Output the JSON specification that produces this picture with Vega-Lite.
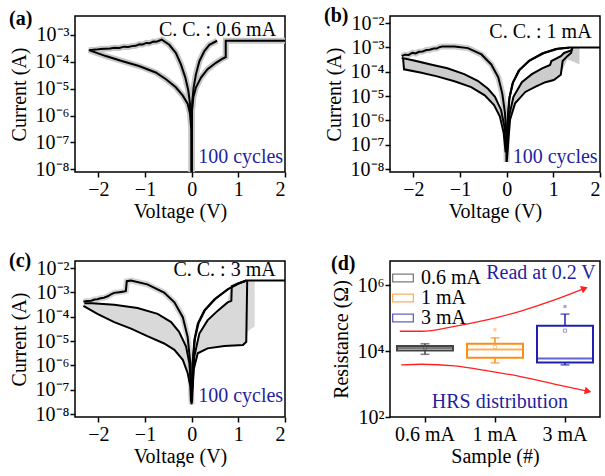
{
"$schema":"https://vega.github.io/schema/vega-lite/v6.json",
"background":"white",
"padding":{"left":8,"top":5,"right":0,"bottom":0},
"config":{
 "font":"Liberation Serif",
 "view":{"stroke":"black","strokeWidth":1.5},
 "axis":{"labelFont":"Liberation Serif","labelFontSize":20,"titleFont":"Liberation Serif","titleFontSize":20,"titleFontWeight":"normal","labelColor":"black","titleColor":"black","tickColor":"black","tickWidth":1.5,"domain":false,"grid":false},
 "axisY":{"tickSize":5,"labelPadding":1,"titlePadding":6},
 "axisX":{"tickSize":5,"labelPadding":2,"titlePadding":2},
 "title":{"font":"Liberation Serif","fontSize":20,"fontWeight":"bold","color":"black","anchor":"start","frame":"bounds","offset":-13}
},
"datasets":{
 "A":[
  {"s":"a1","o":0,"V":0,"L":-8.1},{"s":"a1","o":1,"V":0.007,"L":-5.8},{"s":"a1","o":2,"V":0.036,"L":-5.32},{"s":"a1","o":3,"V":0.093,"L":-4.95},{"s":"a1","o":4,"V":0.2,"L":-4.59},{"s":"a1","o":5,"V":0.34,"L":-4.28},{"s":"a1","o":6,"V":0.52,"L":-4.04},{"s":"a1","o":7,"V":0.67,"L":-3.88},{"s":"a1","o":8,"V":0.73,"L":-3.83},{"s":"a1","o":9,"V":0.73,"L":-3.22},{"s":"a1","o":10,"V":2,"L":-3.22},
  {"s":"a2","o":0,"V":0.545,"L":-3.22},{"s":"a2","o":1,"V":0.38,"L":-3.37},{"s":"a2","o":2,"V":0.27,"L":-3.61},{"s":"a2","o":3,"V":0.165,"L":-3.98},{"s":"a2","o":4,"V":0.093,"L":-4.46},{"s":"a2","o":5,"V":0.043,"L":-4.95},{"s":"a2","o":6,"V":0.014,"L":-5.44},{"s":"a2","o":7,"V":0.003,"L":-6.05},{"s":"a2","o":8,"V":0,"L":-8.1},
  {"s":"a3","o":0,"V":-0.005,"L":-6.5},{"s":"a3","o":1,"V":-0.014,"L":-6.05},{"s":"a3","o":2,"V":-0.036,"L":-5.56},{"s":"a3","o":3,"V":-0.072,"L":-5.07},{"s":"a3","o":4,"V":-0.136,"L":-4.59},{"s":"a3","o":5,"V":-0.23,"L":-4.1},{"s":"a3","o":6,"V":-0.34,"L":-3.67},{"s":"a3","o":7,"V":-0.48,"L":-3.37},{"s":"a3","o":8,"V":-0.64,"L":-3.18},{"s":"a3","o":9,"V":-0.7,"L":-3.22},{"s":"a3","o":10,"V":-0.76,"L":-3.26},{"s":"a3","o":11,"V":-0.82,"L":-3.25},{"s":"a3","o":12,"V":-0.9,"L":-3.31},{"s":"a3","o":13,"V":-0.97,"L":-3.3},{"s":"a3","o":14,"V":-1.05,"L":-3.36},{"s":"a3","o":15,"V":-1.12,"L":-3.35},{"s":"a3","o":16,"V":-1.2,"L":-3.41},{"s":"a3","o":17,"V":-1.28,"L":-3.42},{"s":"a3","o":18,"V":-1.36,"L":-3.45},{"s":"a3","o":19,"V":-1.45,"L":-3.44},{"s":"a3","o":20,"V":-1.55,"L":-3.49},{"s":"a3","o":21,"V":-1.65,"L":-3.48},{"s":"a3","o":22,"V":-1.75,"L":-3.51},{"s":"a3","o":23,"V":-1.85,"L":-3.52},{"s":"a3","o":24,"V":-1.95,"L":-3.53},{"s":"a3","o":25,"V":-2.05,"L":-3.55},{"s":"a3","o":26,"V":-2.2,"L":-3.57},{"s":"a3","o":27,"V":-2.05,"L":-3.66},{"s":"a3","o":28,"V":-1.84,"L":-3.79},{"s":"a3","o":29,"V":-1.48,"L":-3.98},{"s":"a3","o":30,"V":-1.13,"L":-4.16},{"s":"a3","o":31,"V":-0.77,"L":-4.4},{"s":"a3","o":32,"V":-0.55,"L":-4.65},{"s":"a3","o":33,"V":-0.34,"L":-4.95},{"s":"a3","o":34,"V":-0.19,"L":-5.26},{"s":"a3","o":35,"V":-0.086,"L":-5.56},{"s":"a3","o":36,"V":-0.036,"L":-5.93},{"s":"a3","o":37,"V":-0.007,"L":-6.54},{"s":"a3","o":38,"V":0,"L":-8.1}
 ],
 "B":[
  {"s":"b1","o":0,"V":0,"L":-7.7},{"s":"b1","o":1,"V":0.014,"L":-6.24},{"s":"b1","o":2,"V":0.05,"L":-5.17},{"s":"b1","o":3,"V":0.123,"L":-4.5},{"s":"b1","o":4,"V":0.254,"L":-3.96},{"s":"b1","o":5,"V":0.47,"L":-3.56},{"s":"b1","o":6,"V":0.76,"L":-3.25},{"s":"b1","o":7,"V":1.05,"L":-3.07},{"s":"b1","o":8,"V":1.34,"L":-3.0},{"s":"b1","o":9,"V":2,"L":-3.0},
  {"s":"b1b","o":0,"V":0.004,"L":-7.3},{"s":"b1b","o":1,"V":0.022,"L":-6.05},{"s":"b1b","o":2,"V":0.062,"L":-5.05},{"s":"b1b","o":3,"V":0.14,"L":-4.42},{"s":"b1b","o":4,"V":0.28,"L":-3.92},{"s":"b1b","o":5,"V":0.5,"L":-3.53},{"s":"b1b","o":6,"V":0.8,"L":-3.23},{"s":"b1b","o":7,"V":1.1,"L":-3.06},{"s":"b1b","o":8,"V":1.34,"L":-3.01},
  {"s":"b2","o":0,"V":0.007,"L":-6.91},{"s":"b2","o":1,"V":0.05,"L":-5.84},{"s":"b2","o":2,"V":0.145,"L":-5.03},{"s":"b2","o":3,"V":0.326,"L":-4.43},{"s":"b2","o":4,"V":0.54,"L":-4.1},{"s":"b2","o":5,"V":0.76,"L":-3.86},{"s":"b2","o":6,"V":0.93,"L":-3.72},{"s":"b2","o":7,"V":0.96,"L":-3.56},{"s":"b2","o":8,"V":1.16,"L":-3.36},{"s":"b2","o":9,"V":1.23,"L":-3.23},{"s":"b2","o":10,"V":1.38,"L":-3.13},{"s":"b2","o":11,"V":1.41,"L":-3.0},
  {"s":"b3","o":0,"V":0.007,"L":-7.58},{"s":"b3","o":1,"V":0.072,"L":-5.97},{"s":"b3","o":2,"V":0.18,"L":-5.3},{"s":"b3","o":3,"V":0.4,"L":-4.83},{"s":"b3","o":4,"V":0.62,"L":-4.61},{"s":"b3","o":5,"V":0.83,"L":-4.43},{"s":"b3","o":6,"V":1.01,"L":-4.34},{"s":"b3","o":7,"V":1.09,"L":-4.23},{"s":"b3","o":8,"V":1.16,"L":-4.12},{"s":"b3","o":9,"V":1.2,"L":-3.56},{"s":"b3","o":10,"V":1.3,"L":-3.36},{"s":"b3","o":11,"V":1.38,"L":-3.23},{"s":"b3","o":12,"V":1.41,"L":-3.0},
  {"s":"b4","o":0,"V":-2.25,"L":-3.36},{"s":"b4","o":1,"V":-2.18,"L":-3.3},{"s":"b4","o":2,"V":-2.1,"L":-3.31},{"s":"b4","o":3,"V":-2.02,"L":-3.22},{"s":"b4","o":4,"V":-1.95,"L":-3.25},{"s":"b4","o":5,"V":-1.88,"L":-3.18},{"s":"b4","o":6,"V":-1.8,"L":-3.17},{"s":"b4","o":7,"V":-1.72,"L":-3.11},{"s":"b4","o":8,"V":-1.65,"L":-3.1},{"s":"b4","o":9,"V":-1.56,"L":-3.05},{"s":"b4","o":10,"V":-1.5,"L":-3.05},{"s":"b4","o":11,"V":-1.44,"L":-2.99},{"s":"b4","o":12,"V":-1.38,"L":-2.96},{"s":"b4","o":13,"V":-1.12,"L":-2.96},{"s":"b4","o":14,"V":-0.83,"L":-3.03},{"s":"b4","o":15,"V":-0.54,"L":-3.29},{"s":"b4","o":16,"V":-0.33,"L":-3.7},{"s":"b4","o":17,"V":-0.18,"L":-4.23},{"s":"b4","o":18,"V":-0.094,"L":-4.9},{"s":"b4","o":19,"V":-0.036,"L":-5.7},{"s":"b4","o":20,"V":-0.007,"L":-6.64},{"s":"b4","o":21,"V":0,"L":-7.71},
  {"s":"b5","o":0,"V":-2.25,"L":-3.43},{"s":"b5","o":1,"V":-1.99,"L":-3.54},{"s":"b5","o":2,"V":-1.63,"L":-3.7},{"s":"b5","o":3,"V":-1.27,"L":-3.86},{"s":"b5","o":4,"V":-0.91,"L":-4.1},{"s":"b5","o":5,"V":-0.62,"L":-4.37},{"s":"b5","o":6,"V":-0.4,"L":-4.7},{"s":"b5","o":7,"V":-0.25,"L":-5.03},{"s":"b5","o":8,"V":-0.12,"L":-5.57},{"s":"b5","o":9,"V":-0.05,"L":-6.24},{"s":"b5","o":10,"V":-0.014,"L":-7.18},
  {"s":"b6","o":0,"V":-2.22,"L":-3.43},{"s":"b6","o":1,"V":-2.2,"L":-3.9},{"s":"b6","o":2,"V":-1.85,"L":-4.03},{"s":"b6","o":3,"V":-1.49,"L":-4.19},{"s":"b6","o":4,"V":-1.12,"L":-4.39},{"s":"b6","o":5,"V":-0.76,"L":-4.63},{"s":"b6","o":6,"V":-0.47,"L":-4.97},{"s":"b6","o":7,"V":-0.27,"L":-5.37},{"s":"b6","o":8,"V":-0.145,"L":-5.84},{"s":"b6","o":9,"V":-0.065,"L":-6.51},{"s":"b6","o":10,"V":-0.022,"L":-7.31}
 ],
 "Bband":[
  {"side":"l","V":-2.2,"L":-3.9,"L2":-3.43},{"side":"l","V":-1.8,"L":-4.03,"L2":-3.56},{"side":"l","V":-1.4,"L":-4.22,"L2":-3.79},{"side":"l","V":-1.0,"L":-4.45,"L2":-4.03},{"side":"l","V":-0.7,"L":-4.7,"L2":-4.28},{"side":"l","V":-0.45,"L":-5.0,"L2":-4.62},{"side":"l","V":-0.25,"L":-5.37,"L2":-5.03},{"side":"l","V":-0.12,"L":-5.9,"L2":-5.57},{"side":"l","V":-0.05,"L":-6.5,"L2":-6.24},{"side":"l","V":-0.015,"L":-7.3,"L2":-7.1},
  {"side":"r","V":0.01,"L":-7.2,"L2":-6.5},{"side":"r","V":0.05,"L":-6.3,"L2":-5.84},{"side":"r","V":0.15,"L":-5.45,"L2":-5.0},{"side":"r","V":0.3,"L":-5.0,"L2":-4.48},{"side":"r","V":0.5,"L":-4.75,"L2":-4.15},{"side":"r","V":0.7,"L":-4.55,"L2":-3.92},{"side":"r","V":0.9,"L":-4.4,"L2":-3.75},{"side":"r","V":1.0,"L":-4.35,"L2":-3.55},{"side":"r","V":1.15,"L":-4.12,"L2":-3.36},{"side":"r","V":1.3,"L":-3.5,"L2":-3.15},{"side":"r","V":1.45,"L":-3.6,"L2":-3.0},{"side":"r","V":1.56,"L":-3.7,"L2":-3.0}
 ],
 "C":[
  {"s":"c1","o":0,"V":0,"L":-7.5},{"s":"c1","o":1,"V":0.02,"L":-5.9},{"s":"c1","o":2,"V":0.057,"L":-4.96},{"s":"c1","o":3,"V":0.13,"L":-4.29},{"s":"c1","o":4,"V":0.27,"L":-3.75},{"s":"c1","o":5,"V":0.49,"L":-3.28},{"s":"c1","o":6,"V":0.77,"L":-2.87},{"s":"c1","o":7,"V":0.99,"L":-2.65},{"s":"c1","o":8,"V":1.17,"L":-2.51},{"s":"c1","o":9,"V":2,"L":-2.51},
  {"s":"c1b","o":0,"V":0.005,"L":-7.2},{"s":"c1b","o":1,"V":0.028,"L":-5.8},{"s":"c1b","o":2,"V":0.07,"L":-4.9},{"s":"c1b","o":3,"V":0.15,"L":-4.25},{"s":"c1b","o":4,"V":0.29,"L":-3.72},{"s":"c1b","o":5,"V":0.51,"L":-3.26},{"s":"c1b","o":6,"V":0.79,"L":-2.86},{"s":"c1b","o":7,"V":1.0,"L":-2.64},{"s":"c1b","o":8,"V":1.17,"L":-2.52},
  {"s":"c2","o":0,"V":0.014,"L":-6.98},{"s":"c2","o":1,"V":0.057,"L":-5.63},{"s":"c2","o":2,"V":0.165,"L":-4.69},{"s":"c2","o":3,"V":0.34,"L":-4.15},{"s":"c2","o":4,"V":0.56,"L":-3.75},{"s":"c2","o":5,"V":0.77,"L":-3.41},{"s":"c2","o":6,"V":0.85,"L":-3.35},{"s":"c2","o":7,"V":0.86,"L":-2.74},{"s":"c2","o":8,"V":0.99,"L":-2.63},{"s":"c2","o":9,"V":1.17,"L":-2.51},
  {"s":"c3","o":0,"V":0.007,"L":-7.52},{"s":"c3","o":1,"V":0.043,"L":-6.17},{"s":"c3","o":2,"V":0.13,"L":-5.5},{"s":"c3","o":3,"V":0.34,"L":-5.3},{"s":"c3","o":4,"V":0.7,"L":-5.2},{"s":"c3","o":5,"V":1.1,"L":-5.16},{"s":"c3","o":6,"V":1.17,"L":-5.03},{"s":"c3","o":7,"V":1.19,"L":-2.51},
  {"s":"c4","o":0,"V":-2.32,"L":-3.38},{"s":"c4","o":1,"V":-2.24,"L":-3.35},{"s":"c4","o":2,"V":-2.15,"L":-3.34},{"s":"c4","o":3,"V":-2.08,"L":-3.29},{"s":"c4","o":4,"V":-2.02,"L":-3.28},{"s":"c4","o":5,"V":-1.95,"L":-3.24},{"s":"c4","o":6,"V":-1.88,"L":-3.22},{"s":"c4","o":7,"V":-1.8,"L":-3.16},{"s":"c4","o":8,"V":-1.73,"L":-3.08},{"s":"c4","o":9,"V":-1.66,"L":-3.02},{"s":"c4","o":10,"V":-1.55,"L":-2.99},{"s":"c4","o":11,"V":-1.45,"L":-2.96},{"s":"c4","o":12,"V":-1.41,"L":-2.94},{"s":"c4","o":13,"V":-1.39,"L":-2.54},{"s":"c4","o":14,"V":-1.3,"L":-2.51},{"s":"c4","o":15,"V":-0.95,"L":-2.67},{"s":"c4","o":16,"V":-0.59,"L":-3.01},{"s":"c4","o":17,"V":-0.37,"L":-3.41},{"s":"c4","o":18,"V":-0.19,"L":-4.02},{"s":"c4","o":19,"V":-0.086,"L":-4.83},{"s":"c4","o":20,"V":-0.029,"L":-5.9},{"s":"c4","o":21,"V":-0.014,"L":-6.98},{"s":"c4","o":22,"V":0,"L":-7.6},
  {"s":"c5","o":0,"V":-2.3,"L":-3.45},{"s":"c5","o":1,"V":-2.13,"L":-3.45},{"s":"c5","o":2,"V":-1.66,"L":-3.51},{"s":"c5","o":3,"V":-1.16,"L":-3.64},{"s":"c5","o":4,"V":-0.73,"L":-3.88},{"s":"c5","o":5,"V":-0.44,"L":-4.22},{"s":"c5","o":6,"V":-0.27,"L":-4.62},{"s":"c5","o":7,"V":-0.12,"L":-5.23},{"s":"c5","o":8,"V":-0.05,"L":-5.9},{"s":"c5","o":9,"V":-0.014,"L":-6.85},
  {"s":"c6","o":0,"V":-2.32,"L":-3.55},{"s":"c6","o":1,"V":-2.02,"L":-3.88},{"s":"c6","o":2,"V":-1.66,"L":-4.22},{"s":"c6","o":3,"V":-1.3,"L":-4.49},{"s":"c6","o":4,"V":-0.95,"L":-4.8},{"s":"c6","o":5,"V":-0.59,"L":-5.1},{"s":"c6","o":6,"V":-0.37,"L":-5.36},{"s":"c6","o":7,"V":-0.19,"L":-5.77},{"s":"c6","o":8,"V":-0.086,"L":-6.31},{"s":"c6","o":9,"V":-0.029,"L":-6.85},{"s":"c6","o":10,"V":-0.014,"L":-7.52}
 ],
 "Cband":[
  {"side":"l","V":-2.3,"L":-3.55,"L2":-3.45},{"side":"l","V":-2.0,"L":-3.88,"L2":-3.47},{"side":"l","V":-1.66,"L":-4.22,"L2":-3.51},{"side":"l","V":-1.3,"L":-4.49,"L2":-3.58},{"side":"l","V":-0.95,"L":-4.8,"L2":-3.72},{"side":"l","V":-0.6,"L":-5.1,"L2":-4.0},{"side":"l","V":-0.37,"L":-5.36,"L2":-4.35},{"side":"l","V":-0.19,"L":-5.77,"L2":-4.85},{"side":"l","V":-0.086,"L":-6.31,"L2":-5.4},{"side":"l","V":-0.03,"L":-6.85,"L2":-6.0},{"side":"l","V":-0.01,"L":-7.5,"L2":-6.9},
  {"side":"r","V":0.01,"L":-7.3,"L2":-6.5},{"side":"r","V":0.05,"L":-6.2,"L2":-5.7},{"side":"r","V":0.13,"L":-5.5,"L2":-4.8},{"side":"r","V":0.3,"L":-5.3,"L2":-4.2},{"side":"r","V":0.5,"L":-5.25,"L2":-3.85},{"side":"r","V":0.75,"L":-5.2,"L2":-3.45},{"side":"r","V":0.85,"L":-5.18,"L2":-2.75},{"side":"r","V":1.1,"L":-5.16,"L2":-2.55},{"side":"r","V":1.17,"L":-5.03,"L2":-2.51},{"side":"r","V":1.2,"L":-4.6,"L2":-2.51},{"side":"r","V":1.35,"L":-4.4,"L2":-2.51}
 ],
 "D":[
  {"cc":"0.6 mA","lo":3.9,"q1":4.02,"med":4.09,"q3":4.15,"hi":4.22},
  {"cc":"1 mA","lo":3.64,"q1":3.8,"med":4.05,"q3":4.22,"hi":4.4},
  {"cc":"3 mA","lo":3.58,"q1":3.65,"med":3.77,"q3":4.77,"hi":5.12}
 ],
 "Dpts":[
  {"cc":"1 mA","k":"out","v":4.65},{"cc":"3 mA","k":"out","v":5.35},
  {"cc":"0.6 mA","k":"mean","v":4.09},{"cc":"1 mA","k":"mean","v":4.12},{"cc":"3 mA","k":"mean","v":4.62}
 ],
 "Darr":[
  {"a":"up","o":0,"p":0.14,"r":4.6},{"a":"up","o":1,"p":0.45,"r":4.6},{"a":"up","o":2,"p":0.92,"r":4.75},{"a":"up","o":3,"p":1.4,"r":4.95},{"a":"up","o":4,"p":1.88,"r":5.22},{"a":"up","o":5,"p":2.35,"r":5.55},{"a":"up","o":6,"p":2.78,"r":5.9},
  {"a":"down","o":0,"p":0.16,"r":3.58},{"a":"down","o":1,"p":0.45,"r":3.6},{"a":"down","o":2,"p":0.92,"r":3.55},{"a":"down","o":3,"p":1.4,"r":3.4},{"a":"down","o":4,"p":1.88,"r":3.22},{"a":"down","o":5,"p":2.35,"r":3.0},{"a":"down","o":6,"p":2.83,"r":2.78}
 ]
},
"columns":2,
"spacing":{"column":105,"row":89},
"bounds":"flush",
"concat":[
 {
  "width":210,"height":156,
  "title":{"text":"(a)"},
  "encoding":{
   "x":{"field":"V","type":"quantitative","scale":{"domain":[-2.5,2],"nice":false,"zero":false},"axis":{"values":[-2,-1,0,1,2],"format":"d","title":"Voltage (V)"}},
   "y":{"field":"L","type":"quantitative","scale":{"domain":[-8.1,-2.3],"nice":false,"zero":false},"axis":{"values":[-8,-7,-6,-5,-4,-3],"title":"Current (A)","labelExpr":"'10⁻' + substring('⁰¹²³⁴⁵⁶⁷⁸⁹', -datum.value, -datum.value + 1)"}}
  },
  "layer":[
   {"data":{"name":"A"},"mark":{"type":"line","color":"#c6c6c6","strokeWidth":6,"clip":true},"encoding":{"detail":{"field":"s"},"order":{"field":"o"}}},
   {"data":{"name":"A"},"mark":{"type":"line","color":"black","strokeWidth":2,"clip":true},"encoding":{"detail":{"field":"s"},"order":{"field":"o"}}},
   {"data":{"values":[{"V":1.81,"L":-2.81,"t":"C. C. : 0.6 mA"}]},"mark":{"type":"text","align":"right","baseline":"middle","fontSize":20,"color":"black"},"encoding":{"text":{"field":"t"}}},
   {"data":{"values":[{"V":1.96,"L":-7.55,"t":"100 cycles"}]},"mark":{"type":"text","align":"right","baseline":"middle","fontSize":20,"color":"#1f1fa0"},"encoding":{"text":{"field":"t"}}}
  ]
 },
 {
  "width":210,"height":156,
  "title":{"text":"(b)"},
  "encoding":{
   "x":{"field":"V","type":"quantitative","scale":{"domain":[-2.5,2],"nice":false,"zero":false},"axis":{"values":[-2,-1,0,1,2],"format":"d","title":"Voltage (V)"}},
   "y":{"field":"L","type":"quantitative","scale":{"domain":[-8.12,-1.71],"nice":false,"zero":false},"axis":{"values":[-8,-7,-6,-5,-4,-3,-2],"title":"Current (A)","labelExpr":"'10⁻' + substring('⁰¹²³⁴⁵⁶⁷⁸⁹', -datum.value, -datum.value + 1)"}}
  },
  "layer":[
   {"data":{"name":"Bband"},"mark":{"type":"area","color":"#cccccc","clip":true},"encoding":{"y2":{"field":"L2"},"detail":{"field":"side"}}},
   {"data":{"name":"B"},"transform":[{"filter":{"field":"s","oneOf":["b4"]}}],"mark":{"type":"line","color":"#cccccc","strokeWidth":6,"clip":true},"encoding":{"detail":{"field":"s"},"order":{"field":"o"}}},
   {"data":{"name":"B"},"mark":{"type":"line","color":"black","strokeWidth":2,"clip":true},"encoding":{"detail":{"field":"s"},"order":{"field":"o"}}},
   {"data":{"values":[{"V":1.82,"L":-2.36,"t":"C. C. : 1 mA"}]},"mark":{"type":"text","align":"right","baseline":"middle","fontSize":20,"color":"black"},"encoding":{"text":{"field":"t"}}},
   {"data":{"values":[{"V":1.95,"L":-7.5,"t":"100 cycles"}]},"mark":{"type":"text","align":"right","baseline":"middle","fontSize":20,"color":"#1f1fa0"},"encoding":{"text":{"field":"t"}}}
  ]
 },
 {
  "width":210,"height":156,
  "title":{"text":"(c)"},
  "encoding":{
   "x":{"field":"V","type":"quantitative","scale":{"domain":[-2.5,2],"nice":false,"zero":false},"axis":{"values":[-2,-1,0,1,2],"format":"d","title":"Voltage (V)"}},
   "y":{"field":"L","type":"quantitative","scale":{"domain":[-8.12,-1.71],"nice":false,"zero":false},"axis":{"values":[-8,-7,-6,-5,-4,-3,-2],"title":"Current (A)","labelExpr":"'10⁻' + substring('⁰¹²³⁴⁵⁶⁷⁸⁹', -datum.value, -datum.value + 1)"}}
  },
  "layer":[
   {"data":{"name":"Cband"},"mark":{"type":"area","color":"#d9d9d9","clip":true},"encoding":{"y2":{"field":"L2"},"detail":{"field":"side"}}},
   {"data":{"name":"C"},"transform":[{"filter":{"field":"s","oneOf":["c4"]}}],"mark":{"type":"line","color":"#d4d4d4","strokeWidth":6,"clip":true},"encoding":{"detail":{"field":"s"},"order":{"field":"o"}}},
   {"data":{"name":"C"},"mark":{"type":"line","color":"black","strokeWidth":2,"clip":true},"encoding":{"detail":{"field":"s"},"order":{"field":"o"}}},
   {"data":{"values":[{"V":1.8,"L":-2.1,"t":"C. C. : 3 mA"}]},"mark":{"type":"text","align":"right","baseline":"middle","fontSize":20,"color":"black"},"encoding":{"text":{"field":"t"}}},
   {"data":{"values":[{"V":1.96,"L":-7.26,"t":"100 cycles"}]},"mark":{"type":"text","align":"right","baseline":"middle","fontSize":20,"color":"#1f1fa0"},"encoding":{"text":{"field":"t"}}}
  ]
 },
 {
  "width":210,"height":156,
  "title":{"text":"(d)"},
  "layer":[
   {"layer":[
    {"data":{"name":"D"},"mark":{"type":"rule","strokeWidth":1.5},"encoding":{
      "x":{"field":"cc","type":"nominal","sort":["0.6 mA","1 mA","3 mA"],"scale":{"domain":["0.6 mA","1 mA","3 mA"],"paddingInner":0,"paddingOuter":0},"axis":{"title":"Sample (#)","labelAngle":0}},
      "y":{"field":"lo","type":"quantitative","scale":{"domain":[2,6.73],"nice":false,"zero":false},"axis":{"values":[2,3,4,5,6],"title":"Resistance (Ω)","labelExpr":"'10' + substring('⁰¹²³⁴⁵⁶⁷⁸⁹', datum.value, datum.value + 1)"}},
      "y2":{"field":"hi"},
      "color":{"field":"cc","type":"nominal","scale":{"domain":["0.6 mA","1 mA","3 mA"],"range":["#444444","#ff8c1a","#2020b0"]},"legend":{"title":null,"orient":"none","legendX":318,"legendY":252,"padding":0,"labelFontSize":20,"labelFont":"Liberation Serif","labelColor":"black","symbolType":"M-1.1,-0.45H1.1V0.45H-1.1Z M-0.97,-0.32V0.32H0.97V-0.32Z","symbolSize":400,"symbolStrokeWidth":0,"rowPadding":-10,"labelOffset":8}}}},
    {"data":{"name":"D"},"mark":{"type":"bar","size":56,"fill":"white","strokeWidth":2},"encoding":{
      "x":{"field":"cc","type":"nominal"},
      "y":{"field":"q1","type":"quantitative"},"y2":{"field":"q3"},
      "stroke":{"field":"cc","type":"nominal","scale":{"domain":["0.6 mA","1 mA","3 mA"],"range":["#444444","#ff8c1a","#2020b0"]},"legend":null}}},
    {"data":{"name":"D"},"mark":{"type":"tick","orient":"horizontal","size":56,"thickness":2},"encoding":{
      "x":{"field":"cc","type":"nominal"},"y":{"field":"med","type":"quantitative"},"color":{"field":"cc","type":"nominal"}}},
    {"data":{"name":"D"},"mark":{"type":"tick","orient":"horizontal","size":9,"thickness":1.5},"encoding":{
      "x":{"field":"cc","type":"nominal"},"y":{"field":"lo","type":"quantitative"},"color":{"field":"cc","type":"nominal"}}},
    {"data":{"name":"D"},"mark":{"type":"tick","orient":"horizontal","size":9,"thickness":1.5},"encoding":{
      "x":{"field":"cc","type":"nominal"},"y":{"field":"hi","type":"quantitative"},"color":{"field":"cc","type":"nominal"}}},
    {"data":{"name":"Dpts"},"transform":[{"filter":"datum.k == 'out'"}],"mark":{"type":"point","shape":"cross","angle":45,"size":14,"filled":true,"opacity":0.45},"encoding":{
      "x":{"field":"cc","type":"nominal"},"y":{"field":"v","type":"quantitative"},"color":{"field":"cc","type":"nominal"}}},
    {"data":{"name":"Dpts"},"transform":[{"filter":"datum.k == 'mean'"}],"mark":{"type":"point","shape":"square","size":10,"strokeWidth":1,"opacity":0.45},"encoding":{
      "x":{"field":"cc","type":"nominal"},"y":{"field":"v","type":"quantitative"},"color":{"field":"cc","type":"nominal"}}}
   ]},
   {"layer":[
    {"data":{"name":"Darr"},"mark":{"type":"line","color":"#ff2020","strokeWidth":1.3,"interpolate":"monotone"},"encoding":{
      "x":{"field":"p","type":"quantitative","scale":{"domain":[0,3],"nice":false,"zero":false},"axis":null},
      "y":{"field":"r","type":"quantitative","scale":{"domain":[2,6.73],"nice":false,"zero":false}},"detail":{"field":"a"},"order":{"field":"o"}}},
    {"data":{"name":"Darr"},"transform":[{"filter":"datum.a == 'up' && datum.o == 6"}],"mark":{"type":"point","shape":"triangle-right","angle":339,"size":60,"filled":true,"color":"#ff2020","opacity":1},"encoding":{
      "x":{"field":"p","type":"quantitative","axis":null},"y":{"field":"r","type":"quantitative"}}},
    {"data":{"name":"Darr"},"transform":[{"filter":"datum.a == 'down' && datum.o == 6"}],"mark":{"type":"point","shape":"triangle-right","angle":12,"size":60,"filled":true,"color":"#ff2020","opacity":1},"encoding":{
      "x":{"field":"p","type":"quantitative","axis":null},"y":{"field":"r","type":"quantitative"}}},
    {"data":{"values":[{"p":2.94,"r":6.36,"t":"Read at 0.2 V"}]},"mark":{"type":"text","align":"right","baseline":"middle","fontSize":20,"color":"#1f1fa0"},"encoding":{
      "x":{"field":"p","type":"quantitative","axis":null},"y":{"field":"r","type":"quantitative"},"text":{"field":"t"}}},
    {"data":{"values":[{"p":1.57,"r":2.45,"t":"HRS distribution"}]},"mark":{"type":"text","align":"center","baseline":"middle","fontSize":20,"color":"#1f1fa0"},"encoding":{
      "x":{"field":"p","type":"quantitative","axis":null},"y":{"field":"r","type":"quantitative"},"text":{"field":"t"}}}
   ]}
  ],
  "resolve":{"scale":{"x":"independent"}}
 }
]
}
